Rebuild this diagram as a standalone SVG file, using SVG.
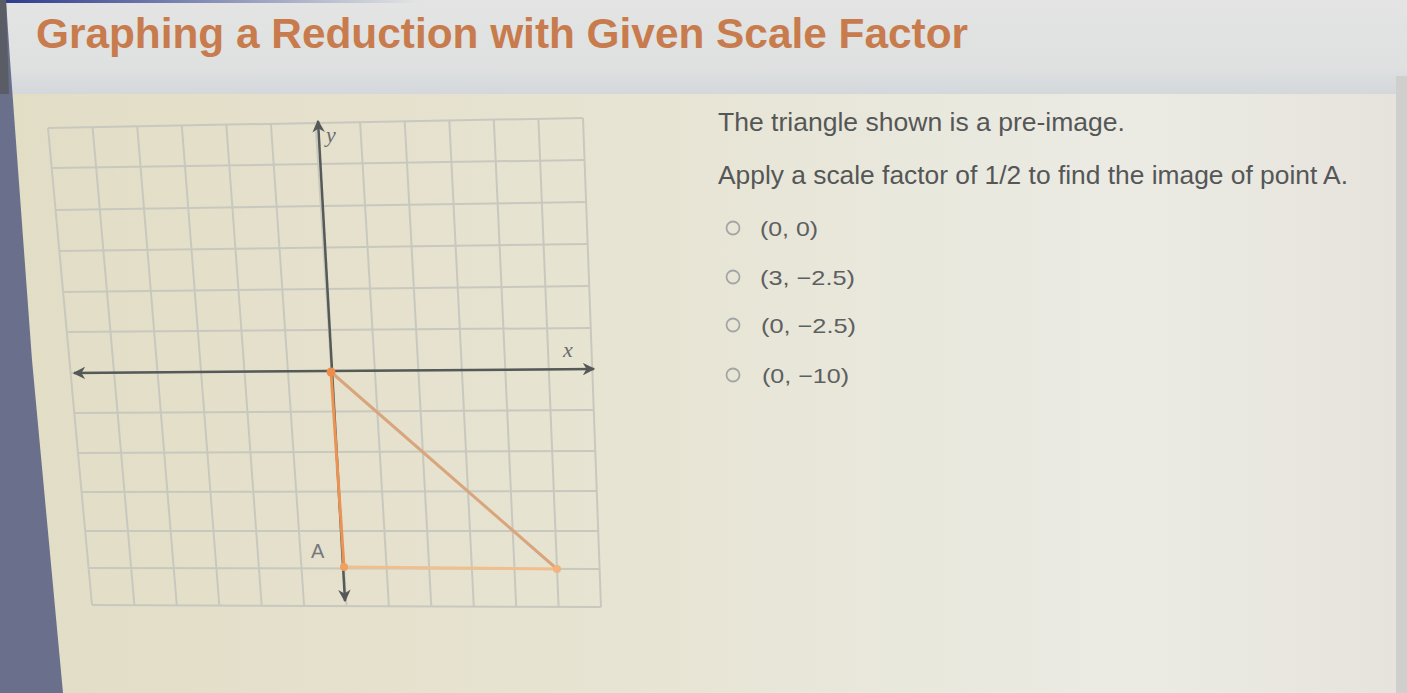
<svg xmlns="http://www.w3.org/2000/svg" width="1407" height="693" viewBox="0 0 1407 693">
  <defs>
    <linearGradient id="bg" x1="0" y1="0" x2="1" y2="0">
      <stop offset="0" stop-color="#e2ddc5"/>
      <stop offset="0.45" stop-color="#e7e4d3"/>
      <stop offset="0.8" stop-color="#ebebe4"/>
      <stop offset="1" stop-color="#e6e3dc"/>
    </linearGradient>
    <linearGradient id="hdr" x1="0" y1="0" x2="0" y2="1">
      <stop offset="0" stop-color="#e3e4e3"/>
      <stop offset="0.7" stop-color="#dfe1e1"/>
      <stop offset="1" stop-color="#d4d8db"/>
    </linearGradient>
    <linearGradient id="topbar" x1="0" y1="0" x2="1" y2="0">
      <stop offset="0" stop-color="#2c3a8a"/>
      <stop offset="1" stop-color="#2c3a8a" stop-opacity="0"/>
    </linearGradient>
    <marker id="arr" viewBox="0 0 10 10" refX="9" refY="5" markerWidth="5" markerHeight="5" orient="auto-start-reverse" markerUnits="strokeWidth">
      <path d="M0,0 L10,5 L0,10 L3,5 z" fill="#545857"/>
    </marker>
    <style>
      .grid line { stroke: #c8c8bf; stroke-width: 2; }
      .axis { stroke: #555957; stroke-width: 2.5; fill: none; }
      .q { font-family: "Liberation Sans", Arial, sans-serif; fill: #555757; }
      .opt { font-family: "Liberation Sans", Arial, sans-serif; font-size: 21px; fill: #5d6060; }
      .radio { fill: none; stroke: #a3a6a4; stroke-width: 1.8; }
      .lbl { font-family: "Liberation Serif", "Times New Roman", serif; font-style: italic; font-size: 22px; fill: #6a6c6c; }
    </style>
  </defs>

  <!-- background -->
  <rect x="0" y="0" width="1407" height="693" fill="url(#bg)"/>
  <rect x="0" y="0" width="1407" height="94" fill="url(#hdr)"/>
  <rect x="0" y="0" width="420" height="3" fill="url(#topbar)"/>
  <rect x="1396" y="76" width="11" height="617" fill="#cfcfce"/>
  <polygon points="0,0 6,0 10,60 32,360 63,693 0,693" fill="#6a6f8b"/>
  <polygon points="0,0 6,0 9,94 0,94" fill="#5b5d66"/>

  <g id="title">
    <text x="36" y="48" font-family="Liberation Sans, Arial, sans-serif" font-weight="bold" font-size="42" fill="#c87b4c" textLength="932" lengthAdjust="spacingAndGlyphs">Graphing a Reduction with Given Scale Factor</text>
  </g>

  <g id="graph">
    <g class="grid">
      <line x1="48" y1="128" x2="92" y2="605"/>
      <line x1="92.6" y1="127.2" x2="134.4" y2="605.2"/>
      <line x1="137.2" y1="126.3" x2="176.8" y2="605.3"/>
      <line x1="181.8" y1="125.5" x2="219.3" y2="605.5"/>
      <line x1="226.3" y1="124.7" x2="261.7" y2="605.7"/>
      <line x1="270.9" y1="123.8" x2="304.1" y2="605.8"/>
      <line x1="315.5" y1="123" x2="346.5" y2="606"/>
      <line x1="360.1" y1="122.2" x2="388.9" y2="606.2"/>
      <line x1="404.7" y1="121.3" x2="431.3" y2="606.3"/>
      <line x1="449.3" y1="120.5" x2="473.8" y2="606.5"/>
      <line x1="493.8" y1="119.7" x2="516.2" y2="606.7"/>
      <line x1="538.4" y1="118.8" x2="558.6" y2="606.8"/>
      <line x1="583" y1="118" x2="601" y2="607"/>
      <line x1="48" y1="128" x2="583" y2="118"/>
      <line x1="51.7" y1="168" x2="584.5" y2="160"/>
      <line x1="55.6" y1="210" x2="586.1" y2="202"/>
      <line x1="59.3" y1="251" x2="587.6" y2="244"/>
      <line x1="63.1" y1="292" x2="589.2" y2="286"/>
      <line x1="66.8" y1="332" x2="590.7" y2="328"/>
      <line x1="70.6" y1="373" x2="592.2" y2="369"/>
      <line x1="74.3" y1="413" x2="593.7" y2="410"/>
      <line x1="78" y1="453" x2="595.3" y2="451"/>
      <line x1="81.6" y1="492" x2="596.7" y2="491"/>
      <line x1="85.2" y1="531" x2="598.2" y2="531"/>
      <line x1="88.6" y1="568" x2="599.6" y2="569"/>
      <line x1="92" y1="605" x2="601" y2="607"/>
    </g>
    <g id="axes">
      <line class="axis" x1="74" y1="373" x2="594" y2="369" marker-start="url(#arr)" marker-end="url(#arr)"/>
      <line class="axis" x1="318" y1="121" x2="345" y2="601" marker-start="url(#arr)" marker-end="url(#arr)"/>
      <text class="lbl" x="326" y="142">y</text>
      <text class="lbl" x="563" y="357">x</text>
    </g>
    <g id="triangle">
      <line x1="331" y1="372" x2="344" y2="567" stroke="#eb9353" stroke-width="3"/>
      <line x1="344" y1="567" x2="557" y2="569" stroke="#f0bf8d" stroke-width="3"/>
      <line x1="331" y1="372" x2="557" y2="569" stroke="#d9a57c" stroke-width="3"/>
      <circle cx="331" cy="372" r="4.5" fill="#ee8c4c"/>
      <circle cx="344" cy="567" r="4" fill="#f0a060"/>
      <circle cx="557" cy="569" r="4" fill="#f2b47e"/>
      <text x="311" y="558" font-family="Liberation Sans, Arial, sans-serif" font-size="20" fill="#77777e">A</text>
    </g>
  </g>

  <g id="question">
    <text class="q" x="718" y="131" font-size="25" textLength="407" lengthAdjust="spacingAndGlyphs">The triangle shown is a pre-image.</text>
    <text class="q" x="718" y="184" font-size="25" textLength="630" lengthAdjust="spacingAndGlyphs">Apply a scale factor of 1/2 to find the image of point A.</text>
  </g>

  <g id="option1">
    <circle class="radio" cx="733" cy="228" r="6.5"/>
    <text class="opt" x="760" y="236" textLength="58" lengthAdjust="spacingAndGlyphs">(0, 0)</text>
  </g>
  <g id="option2">
    <circle class="radio" cx="733" cy="277" r="6.5"/>
    <text class="opt" x="760" y="285" textLength="95" lengthAdjust="spacingAndGlyphs">(3, −2.5)</text>
  </g>
  <g id="option3">
    <circle class="radio" cx="733" cy="325" r="6.5"/>
    <text class="opt" x="761" y="333" textLength="95" lengthAdjust="spacingAndGlyphs">(0, −2.5)</text>
  </g>
  <g id="option4">
    <circle class="radio" cx="733" cy="375" r="6.5"/>
    <text class="opt" x="762" y="383" textLength="87" lengthAdjust="spacingAndGlyphs">(0, −10)</text>
  </g>
</svg>
